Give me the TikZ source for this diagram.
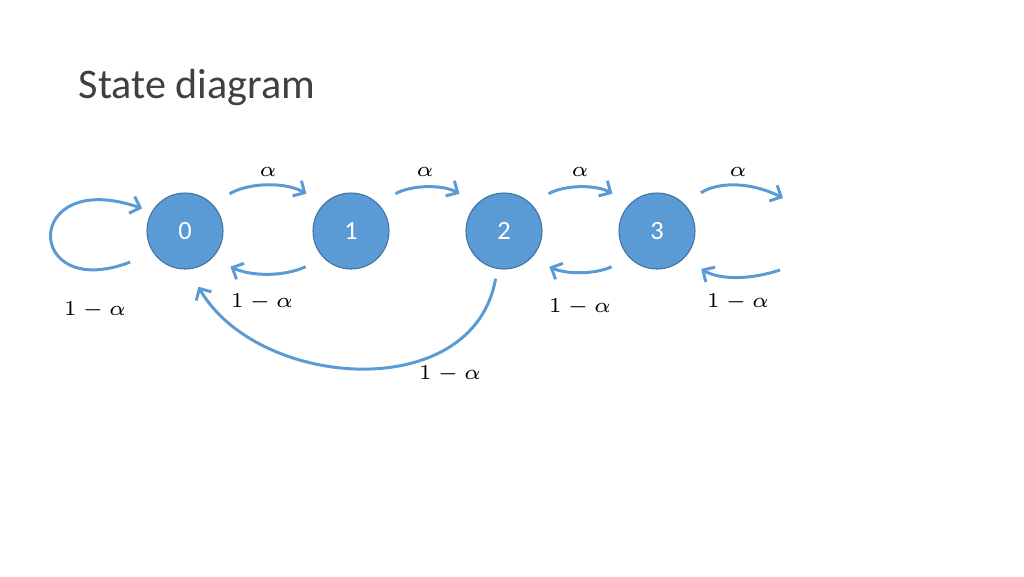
\documentclass[tikz,border=0pt]{standalone}
\usepackage{fontspec}
\setmainfont{Carlito}
\usetikzlibrary{arrows.meta}
\definecolor{stfill}{HTML}{5B9BD5}
\definecolor{stline}{HTML}{41719C}
\tikzset{
  state/.style={circle, draw=stline, line width=0.3pt, fill=stfill, minimum size=0.76cm, inner sep=0pt, text=white, font=\fontsize{7.5}{7.5}\selectfont},
  arc/.style={draw=stfill, line width=0.85pt, -{Straight Barb[length=2.5pt,width=5pt]}, shorten <=0.2cm, shorten >=0.2cm},
  lab/.style={font=\fontsize{6}{6}\selectfont}
}
\begin{document}
\begin{tikzpicture}
\useasboundingbox (0,0) rectangle (10.24,-5.76);
\node[anchor=west, inner sep=0pt, font=\fontsize{12}{12}\selectfont, text=black!75] (title) at (0.78,-0.87) {State diagram};

\node[state] (n0) at (1.85,-2.31) {0};
\node[state] (n1) at (3.51,-2.31) {1};
\node[state] (n2) at (5.04,-2.31) {2};
\node[state] (n3) at (6.57,-2.31) {3};
\coordinate (r1) at (7.83,-1.98);
\coordinate (r2) at (7.80,-2.70);

\draw[arc] (n0.45) to[bend left=30] (n1.135);
\draw[arc] (n1.45) to[bend left=30] (n2.135);
\draw[arc] (n2.45) to[bend left=30] (n3.135);
\draw[arc, shorten >=0pt] (n3.45) to[bend left=30] (r1);
\draw[arc] (n1.-135) to[bend left=25] (n0.-45);
\draw[arc] (n3.-135) to[bend left=25] (n2.-45);
\draw[arc, shorten <=0pt] (r2) to[bend left=25] (n3.-45);
\draw[arc, shorten <=0.25cm, shorten >=0.1cm] (n0.215) .. controls +(-1.3,-0.5) and +(-1.3,0.45) .. (n0.150);
\draw[arc, shorten <=0.1cm, shorten >=0.2cm] (n2.260) to[out=-100, in=-60, looseness=1.15] (n0.275);

\node[lab] (a1) at (2.68,-1.72) {$\alpha$};
\node[lab] (a2) at (4.25,-1.72) {$\alpha$};
\node[lab] (a3) at (5.80,-1.72) {$\alpha$};
\node[lab] (a4) at (7.38,-1.72) {$\alpha$};
\node[lab] (b0) at (0.95,-3.10) {$1-\alpha$};
\node[lab] (b1) at (2.62,-3.02) {$1-\alpha$};
\node[lab] (b2) at (5.80,-3.07) {$1-\alpha$};
\node[lab] (b3) at (7.38,-3.02) {$1-\alpha$};
\node[lab] (b4) at (4.50,-3.74) {$1-\alpha$};
\end{tikzpicture}
\end{document}
